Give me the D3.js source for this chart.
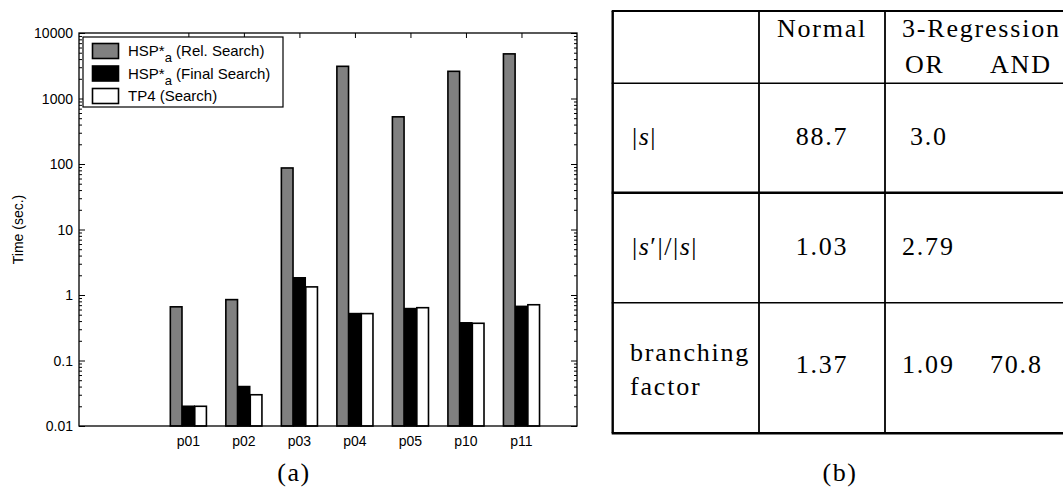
<!DOCTYPE html>
<html>
<head>
<meta charset="utf-8">
<script src="https://cdn.jsdelivr.net/npm/d3@7/dist/d3.min.js"></script>
<style>
  body { margin: 0; background: #fff; }
  svg { display: block; }
</style>
</head>
<body>
<div id="svg-container"></div>
<script>
// chart data (a)
const problems = ['p01', 'p02', 'p03', 'p04', 'p05', 'p10', 'p11'];
const relSearch = [0.66, 0.85, 87, 3100, 525, 2600, 4800];
const finalSearch = [0.02, 0.04, 1.83, 0.52, 0.62, 0.376, 0.67];
const tp4Search = [0.02, 0.03, 1.33, 0.52, 0.64, 0.37, 0.71];
const seriesNames = [
    ['HSP*', 'a', ' (Rel. Search)'],
    ['HSP*', 'a', ' (Final Search)'],
    ['TP4 (Search)', '', '']
];
const seriesColors = ['#808080', '#000000', '#ffffff'];
const yTicks = [0.01, 0.1, 1, 10, 100, 1000, 10000];
const yTickLabels = ['0.01', '0.1', '1', '10', '100', '1000', '10000'];

// table data (b)
const rowLabels = [['|s|'], ["|s′|/|s|"], ['branching', 'factor']];
const normalCol = ['88.7', '1.03', '1.37'];
const orCol = ['3.0', '2.79', '1.09'];
const andCol = ['', '', '70.8'];

const SANS = '"Liberation Sans", Arial, Helvetica, sans-serif';
const SERIF = '"Liberation Serif", "Times New Roman", serif';

const svgWidth = 1063;
const svgHeight = 491;

const svg = d3.select('#svg-container')
.append('svg')
.attr('width', svgWidth)
.attr('height', svgHeight);

// ---------- bar chart ----------
const plot = { left: 79, right: 577, top: 33, bottom: 426 };

const x = d3.scaleLinear()
.domain([-0.97, 8])
.range([plot.left, plot.right]);

const y = d3.scaleLog()
.domain([0.01, 10000])
.range([plot.bottom, plot.top]);

const series = [relSearch, finalSearch, tp4Search];
const barW = 0.21;
const offsets = [-0.22, 0, 0.22];

const bars = svg.append('g');
series.forEach((vals, s) => {
    bars.selectAll(null)
    .data(vals)
    .enter()
    .append('rect')
    .attr('x', (d, i) => x(i + 1 + offsets[s] - barW / 2))
    .attr('width', x(barW) - x(0))
    .attr('y', (d) => y(d))
    .attr('height', (d) => y(0.01) - y(d))
    .attr('fill', seriesColors[s])
    .attr('stroke', '#000')
    .attr('stroke-width', 1.6);
});

// minor ticks for log axis
const minorTicks = [];
for (let e = -2; e < 4; e++) {
    for (let m = 2; m <= 9; m++) minorTicks.push(m * Math.pow(10, e));
}

const axes = svg.append('g').attr('font-family', SANS);

// left and right axes, ticks inward
[[plot.left, d3.axisRight], [plot.right, d3.axisLeft]].forEach(([px, axisFn]) => {
    axes.append('g')
    .attr('transform', `translate(${px},0)`)
    .call(axisFn(y).tickValues(yTicks).tickSize(6).tickFormat(''))
    .call((g) => g.select('.domain').remove());
    axes.append('g')
    .attr('transform', `translate(${px},0)`)
    .call(axisFn(y).tickValues(minorTicks).tickSize(3).tickFormat(''))
    .call((g) => g.select('.domain').remove());
});

// y tick labels
axes.selectAll('.ylab')
.data(yTicks)
.enter()
.append('text')
.attr('x', plot.left - 6)
.attr('y', (d) => y(d))
.attr('dy', '0.36em')
.attr('text-anchor', 'end')
.attr('font-size', 14)
.text((d, i) => yTickLabels[i]);

// top x ticks inward
const xTickVals = problems.map((p, i) => i + 1);
axes.append('g')
.attr('transform', `translate(0,${plot.top})`)
.call(d3.axisBottom(x).tickValues(xTickVals).tickSize(5).tickFormat(''))
.call((g) => g.select('.domain').remove());

// x labels
axes.selectAll('.xlab')
.data(problems)
.enter()
.append('text')
.attr('x', (d, i) => x(i + 1))
.attr('y', 446)
.attr('text-anchor', 'middle')
.attr('font-size', 14)
.text((d) => d);

// frame
axes.selectAll('.tick line').attr('stroke', '#000').attr('stroke-width', 1);
svg.append('rect')
.attr('x', plot.left)
.attr('y', plot.top)
.attr('width', plot.right - plot.left)
.attr('height', plot.bottom - plot.top)
.attr('fill', 'none')
.attr('stroke', '#000')
.attr('stroke-width', 1.3);

// y axis title
svg.append('text')
.attr('font-family', SANS)
.attr('transform', `translate(23,${(plot.top + plot.bottom) / 2}) rotate(-90)`)
.attr('text-anchor', 'middle')
.attr('font-size', 14)
.text('Time (sec.)');

// legend
const legend = svg.append('g').attr('font-family', SANS);
legend.append('rect')
.attr('x', 83).attr('y', 37)
.attr('width', 200).attr('height', 70)
.attr('fill', '#fff')
.attr('stroke', '#000')
.attr('stroke-width', 1.2);

seriesNames.forEach((name, i) => {
    const cy = 51 + i * 22.5;
    legend.append('rect')
    .attr('x', 92.5).attr('y', cy - 7.5)
    .attr('width', 26).attr('height', 15)
    .attr('fill', seriesColors[i])
    .attr('stroke', '#000')
    .attr('stroke-width', 1.6);
    const t = legend.append('text')
    .attr('x', 128)
    .attr('y', cy + 5)
    .attr('font-size', 15);
    t.append('tspan').text(name[0]);
    if (name[1]) {
        t.append('tspan').attr('dy', 6).attr('font-size', 13).text(name[1]);
        t.append('tspan').attr('dy', -6).text(name[2]);
    }
});

// ---------- table (b) ----------
const table = svg.append('g')
.attr('font-family', SERIF)
.attr('font-size', 26)
.attr('letter-spacing', 1.8);
const tl = 612.7, tr = svgWidth;
const colX = [759, 885];
const rowY = [11, 83.3, 192.7, 302.7, 433.3];
const rowW = [2.2, 1.6, 2.4, 1.6, 2.4];

rowY.forEach((ry, i) => {
    table.append('line')
    .attr('x1', tl - 1).attr('x2', tr)
    .attr('y1', ry).attr('y2', ry)
    .attr('stroke', '#000').attr('stroke-width', rowW[i]);
});
[tl].concat(colX).forEach((cx, i) => {
    table.append('line')
    .attr('x1', cx).attr('x2', cx)
    .attr('y1', rowY[0]).attr('y2', rowY[rowY.length - 1])
    .attr('stroke', '#000').attr('stroke-width', i === 0 ? 2.4 : 1.8);
});

// writes math-ish text with italic s
const mathText = (sel, str) => {
    str.split('').forEach((ch) => {
        const sp = sel.append('tspan').text(ch);
        if (ch === 's') sp.attr('font-style', 'italic');
    });
};

// header
table.append('text').attr('x', 822).attr('y', 37).attr('text-anchor', 'middle').text('Normal');
table.append('text').attr('x', 902).attr('y', 37).text('3-Regression');
table.append('text').attr('x', 905).attr('y', 73).text('OR');
table.append('text').attr('x', 990).attr('y', 73).text('AND');

const baselines = [145, 255, 373];
rowLabels.forEach((lab, i) => {
    if (lab.length === 1) {
        mathText(table.append('text').attr('x', 632).attr('y', baselines[i]).attr('letter-spacing', 1.5), lab[0]);
    } else {
        table.append('text').attr('x', 630).attr('y', 361).text(lab[0]);
        table.append('text').attr('x', 630).attr('y', 395).text(lab[1]);
    }
    table.append('text').attr('x', 822).attr('y', baselines[i]).attr('text-anchor', 'middle').text(normalCol[i]);
    table.append('text').attr('x', i === 0 ? 910 : 902).attr('y', baselines[i]).text(orCol[i]);
    if (andCol[i]) table.append('text').attr('x', 990).attr('y', baselines[i]).text(andCol[i]);
});

// captions (a) and (b)
const captions = svg.append('g')
.attr('font-family', SERIF)
.attr('font-size', 26)
.attr('letter-spacing', 1.5)
.attr('text-anchor', 'middle');
captions.append('text').attr('x', 294).attr('y', 481).text('(a)');
captions.append('text').attr('x', 840).attr('y', 481).text('(b)');
</script>
</body>
</html>
